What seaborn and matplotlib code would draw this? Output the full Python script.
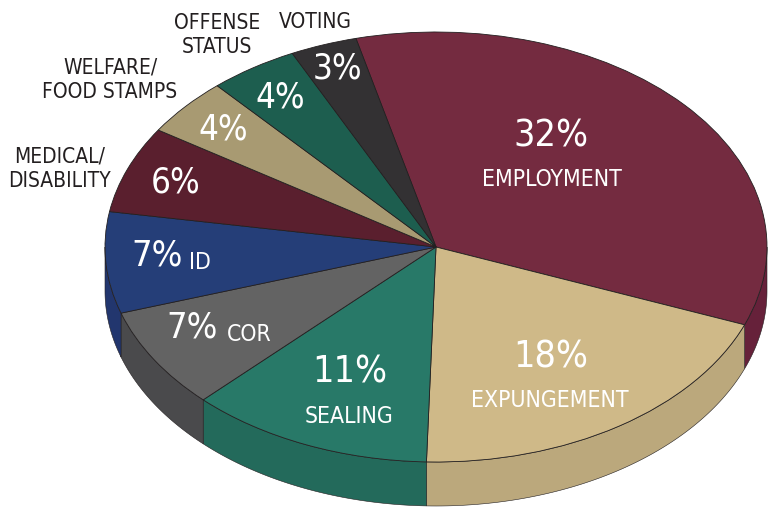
"""
Barriers to re-entry: share of requests by type (3D-style pie)
"""
import numpy as np
import matplotlib
matplotlib.use("Agg")
import matplotlib.pyplot as plt
from matplotlib import font_manager
from matplotlib.patches import Polygon
import seaborn as sns

# data
categories = ["EMPLOYMENT", "EXPUNGEMENT", "SEALING", "COR", "ID",
              "MEDICAL/\nDISABILITY", "WELFARE/\nFOOD STAMPS",
              "OFFENSE\nSTATUS", "VOTING"]
shares = [32, 18, 11, 7, 7, 6, 4, 4, 3]
pct_labels = ["32%", "18%", "11%", "7%", "7%", "6%", "4%", "4%", "3%"]

top_colors = ["#742b40", "#cfb988", "#287968", "#636363", "#253e78",
              "#5a1f2e", "#a89a72", "#1d5e4f", "#333133"]
side_colors = ["#66213a", "#bba87c", "#236a5b", "#4a4a4c", "#22366e",
               "#4e1a27", "#968860", "#184f43", "#2a282a"]

sns.set_style("white")
plt.rcParams["font.family"] = ["DejaVu Sans"]


def narrow_font():
    # look for any installed condensed / narrow regular face
    best = None
    for f in font_manager.fontManager.ttflist:
        name = f.name.lower()
        fname = f.fname.lower()
        narrow = ("narrow" in name or "condensed" in name or "condensed" in fname
                  or "narrow" in fname or str(f.stretch) in ("condensed", "semi-condensed",
                                                             "extra-condensed"))
        if not narrow or f.style != "normal":
            continue
        w = f.weight if isinstance(f.weight, int) else 400
        if "bold" in fname or "light" in fname or "oblique" in fname or "italic" in fname:
            continue
        score = abs(w - 400)
        if best is None or score < best[0]:
            best = (score, f.fname)
    return best[1] if best else None


fpath = narrow_font()
if fpath:
    FONT = dict(fontproperties=font_manager.FontProperties(fname=fpath))
    k = 1.0
else:
    FONT = dict(fontstretch="condensed")
    k = 0.8

# pixel layout of the ellipse in the 775x510 picture
CX, CY, RX, RY = 436, 248, 331, 215
DEPTH = 44 / RY
EDGE = "#231f20"


def px(x, y):
    return (x - CX) / RX, (CY - y) / RY


def label(x, y, s, size, **kw):
    t = ax.text(*px(x, y), s, zorder=5, **FONT, **kw)
    t.set_fontsize(size * k)
    return t


fig = plt.figure(figsize=(7.75, 5.1), dpi=100)
ax = fig.add_axes([0, 0, 1, 1])

wedges, _ = ax.pie(shares, colors=top_colors, startangle=104, counterclock=False,
                   radius=1, center=(0, 0), frame=True,
                   wedgeprops=dict(edgecolor=EDGE, linewidth=0.6, zorder=3))

# side walls: only the front half (180..360 deg) is visible
for w, col in zip(wedges, side_colors):
    t1, t2 = w.theta1, w.theta2
    for lo, hi in [(-180, 0), (180, 360), (540, 720)]:
        a, b = max(t1, lo), min(t2, hi)
        if b <= a:
            continue
        t = np.radians(np.linspace(a, b, 80))
        top = np.column_stack([np.cos(t), np.sin(t)])
        bot = np.column_stack([np.cos(t[::-1]), np.sin(t[::-1]) - DEPTH])
        ax.add_patch(Polygon(np.vstack([top, bot]), closed=True, facecolor=col,
                             edgecolor=EDGE, linewidth=0.4, zorder=2))

ax.set_aspect("auto")
ax.set_xlim(-CX / RX, (775 - CX) / RX)
ax.set_ylim((CY - 510) / RY, CY / RY)
ax.axis("off")

# percentage labels inside the slices
pct_pos = [(551, 137, "center"), (551, 358, "center"), (350, 373, "center"),
           (218, 328, "right"), (183, 256, "right"), (176, 183, "center"),
           (223, 130, "center"), (280, 98, "center"), (337, 69, "center")]
pct_size = [27, 27, 27, 26, 26, 25, 25, 25, 25]
for lab, (x, y, ha), fs in zip(pct_labels, pct_pos, pct_size):
    label(x, y, lab, fs, color="white", ha=ha, va="center")

# category names inside the big slices
inner = {0: (552, 180, "center"), 1: (550, 401, "center"), 2: (349, 417, "center"),
         3: (227, 335, "left"), 4: (189, 263, "left")}
for i, (x, y, ha) in inner.items():
    label(x, y, categories[i], 16.5, color="white", ha=ha, va="center")

# category names outside the small slices
outer = {5: (60, 169), 6: (110, 80), 7: (217, 35), 8: (315, 22)}
for i, (x, y) in outer.items():
    label(x, y, categories[i], 15, color=EDGE, ha="center", va="center",
          linespacing=1.3)

fig.savefig("out.png", dpi=100)
